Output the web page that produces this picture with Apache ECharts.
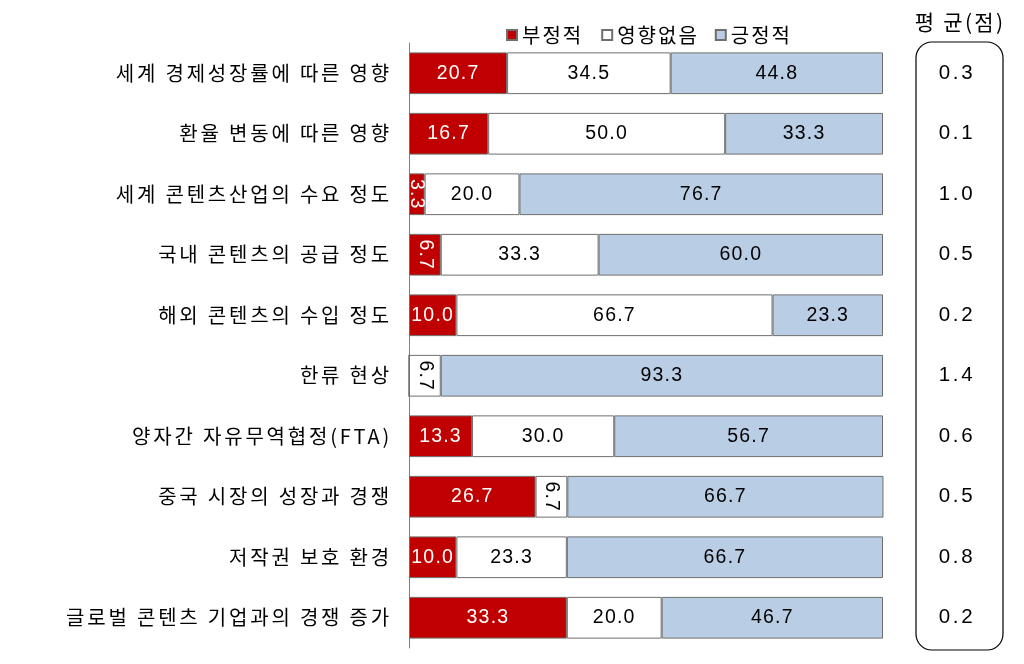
<!DOCTYPE html>
<html><head><meta charset="utf-8">
<script src="https://cdn.jsdelivr.net/npm/echarts@6/dist/echarts.min.js"></script>
<style>html,body{margin:0;padding:0;background:#fff}#c{width:1024px;height:664px}</style>
</head><body><div id="c"></div>
<script>
const categories = ['세계 경제성장률에 따른 영향','환율 변동에 따른 영향','세계 콘텐츠산업의 수요 정도','국내 콘텐츠의 공급 정도','해외 콘텐츠의 수입 정도','한류 현상','양자간 자유무역협정(FTA)','중국 시장의 성장과 경쟁','저작권 보호 환경','글로벌 콘텐츠 기업과의 경쟁 증가'];
const negative = [20.7,16.7,3.3,6.7,10.0,0,13.3,26.7,10.0,33.3];
const neutral  = [34.5,50.0,20.0,33.3,66.7,6.7,30.0,6.7,23.3,20.0];
const positive = [44.8,33.3,76.7,60.0,23.3,93.3,56.7,66.7,66.7,46.7];
const averages = ['0.3','0.1','1.0','0.5','0.2','1.4','0.6','0.5','0.8','0.2'];
const seriesNames = ['부정적','영향없음','긍정적'];
const avgTitle = '평 균(점)';

// text sizes, each with its own letter spacing (the reference uses widely tracked text)
const SZ_CAT = 20, SZ_LEG = 20.01, SZ_BAR = 19.5, SZ_AVG = 20.5, SZ_TTL = 21;
const spacingBySize = {};
spacingBySize[SZ_CAT] = 2.8; spacingBySize[SZ_LEG] = 2; spacingBySize[SZ_BAR] = 1.2;
spacingBySize[SZ_AVG] = 2.7; spacingBySize[SZ_TTL] = 2.3;
(function(){
  const P = CanvasRenderingContext2D.prototype;
  if (!('letterSpacing' in P)) return;
  const orig = P.fillText;
  P.fillText = function(t,x,y,mw){
    const m = /(\d+(?:\.\d+)?)px/.exec(this.font);
    const fs = m ? parseFloat(m[1]) : 0;
    const ls = spacingBySize[fs] || 0;
    const prev = this.letterSpacing;
    this.letterSpacing = ls + 'px';
    const r = mw === undefined ? orig.call(this,t,x,y) : orig.call(this,t,x,y,mw);
    this.letterSpacing = prev;
    return r;
  };
})();

const KR = '"Noto Sans CJK KR", sans-serif';
const NUM = '"Liberation Sans", Arial, sans-serif';
const colors = ['#C00000','#FFFFFF','#B9CDE5'];
const textColors = ['#FFFFFF','#000000','#000000'];

function mk(name, data, idx){
  return {
    name, type:'bar', stack:'s', barWidth:'69%',
    itemStyle:{color:colors[idx], borderColor:'#6f6f6f', borderWidth:1},
    emphasis:{disabled:true},
    label:{show:true, position:'inside', color:textColors[idx], fontFamily:NUM, fontSize:SZ_BAR,
      formatter:p=>p.value>0?p.value.toFixed(1):''},
    data: data.map(v=>{
      const o={value:v};
      if(v>0 && v<8){o.label={rotate:-90};}
      return o;
    })
  };
}

const chart = echarts.init(document.getElementById('c'));
chart.setOption({
  animation:false,
  legend:{top:20,left:501, icon:'rect', itemWidth:10,itemHeight:10,itemGap:24,
    textStyle:{fontFamily:KR,fontSize:SZ_LEG,color:'#000'}, data:seriesNames},
  grid:{left:409,right:141,top:43,bottom:16},
  xAxis:{type:'value',min:0,max:100,show:false},
  yAxis:[
    {type:'category',data:categories,inverse:true,
      axisLine:{show:true,lineStyle:{color:'#808080',width:1}},axisTick:{show:false},
      axisLabel:{fontFamily:KR,fontSize:SZ_CAT,color:'#000',margin:17}},
    {type:'category',data:averages,inverse:true,position:'right',
      axisLine:{show:false},axisTick:{show:false},
      axisLabel:{fontFamily:NUM,fontSize:SZ_AVG,color:'#000',margin:74,align:'center',padding:[4,0,0,0]}}
  ],
  graphic:[
    {type:'rect',shape:{x:916,y:42,width:87,height:608,r:16},style:{fill:'none',stroke:'#000',lineWidth:1.2}},
    {type:'text',style:{x:960,y:22,text:avgTitle,fill:'#000',font:SZ_TTL+'px '+KR,align:'center',verticalAlign:'middle'}}
  ],
  series:[mk(seriesNames[0],negative,0),mk(seriesNames[1],neutral,1),mk(seriesNames[2],positive,2)]
});
</script></body></html>
